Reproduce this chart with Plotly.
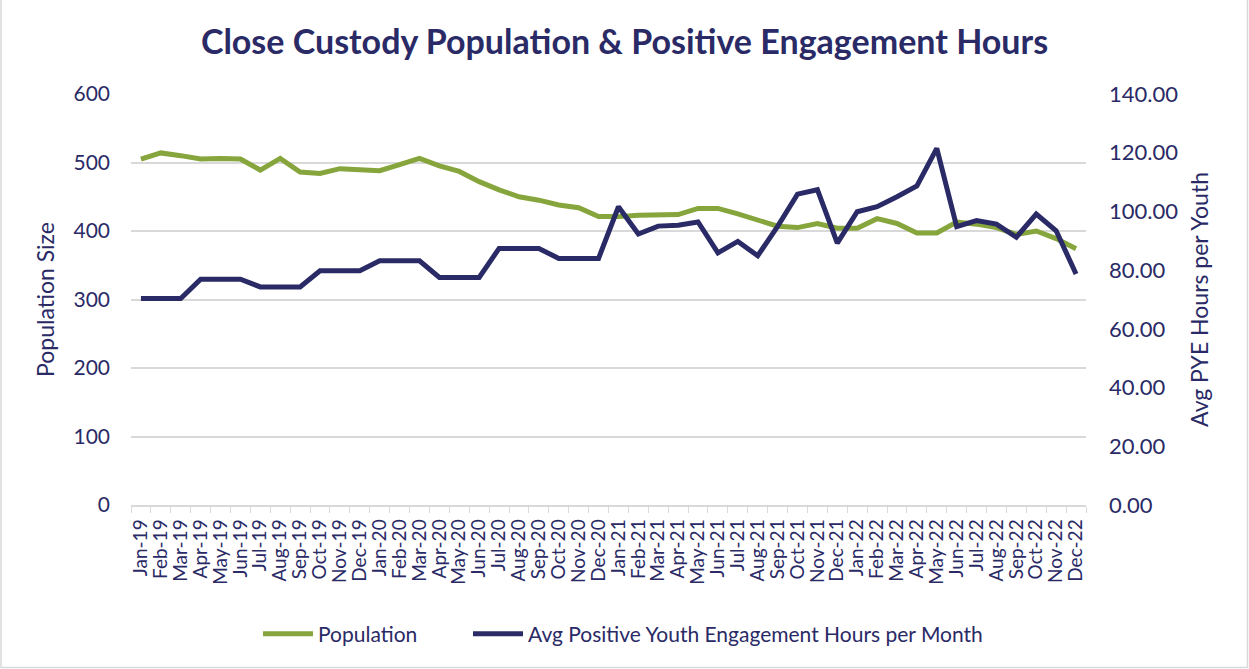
import plotly.graph_objects as go

# Monthly categories (Jan 2019 - Dec 2022)
months = [
    "Jan-19", "Feb-19", "Mar-19", "Apr-19", "May-19", "Jun-19",
    "Jul-19", "Aug-19", "Sep-19", "Oct-19", "Nov-19", "Dec-19",
    "Jan-20", "Feb-20", "Mar-20", "Apr-20", "May-20", "Jun-20",
    "Jul-20", "Aug-20", "Sep-20", "Oct-20", "Nov-20", "Dec-20",
    "Jan-21", "Feb-21", "Mar-21", "Apr-21", "May-21", "Jun-21",
    "Jul-21", "Aug-21", "Sep-21", "Oct-21", "Nov-21", "Dec-21",
    "Jan-22", "Feb-22", "Mar-22", "Apr-22", "May-22", "Jun-22",
    "Jul-22", "Aug-22", "Sep-22", "Oct-22", "Nov-22", "Dec-22",
]

# Close custody population size
population = [
    505, 514, 510, 505, 506, 505, 489, 506, 486, 484, 491, 490,
    488, 497, 506, 495, 487, 472, 460, 450, 445, 438, 434, 421,
    421, 423, 423, 424, 433, 433, 425, 416, 407, 405, 411, 404,
    404, 418, 411, 397, 397, 413, 410, 405, 395, 400, 389, 374,
]

# Average positive youth engagement hours per youth per month
pye_hours = [
    70.3, 70.3, 70.3, 76.9, 76.9, 76.9, 74.3, 74.3, 74.3, 79.8, 79.8, 79.8,
    83.2, 83.2, 83.2, 77.5, 77.5, 77.5, 87.4, 87.4, 87.4, 84.0, 84.0, 84.0,
    101.6, 92.3, 95.0, 95.3, 96.4, 85.9, 89.8, 84.9, 94.9, 105.9, 107.4, 89.2,
    99.9, 101.6, 105.0, 108.7, 121.5, 94.8, 96.9, 95.7, 91.2, 99.1, 93.4, 78.7,
]

GREEN = "#86A53C"
NAVY = "#2A2A66"
GRID = "#D9D9D9"
FONT = "Lato"

W, H = 1249, 669
L, R, T, B = 131, 163, 94, 164

fig = go.Figure()
fig.add_trace(go.Scatter(
    x=months, y=population, name="Population", mode="lines",
    line=dict(color=GREEN, width=5), yaxis="y", legend="legend",
))
fig.add_trace(go.Scatter(
    x=months, y=pye_hours, name="Avg Positive Youth Engagement Hours per Month",
    mode="lines", line=dict(color=NAVY, width=5), yaxis="y2", legend="legend2",
))

pw, ph = W - L - R, H - T - B

# one legend box per series so the entries sit where the footer places them
legend_style = dict(
    orientation="h", xanchor="left", xref="paper",
    y=(505 - 634) / ph, yanchor="middle",
    font=dict(size=21, color=NAVY), itemwidth=50,
)

fig.update_layout(
    width=W, height=H,
    margin=dict(l=L, r=R, t=T, b=B, pad=0, autoexpand=False),
    paper_bgcolor="white", plot_bgcolor="white",
    font=dict(family=FONT, color=NAVY, size=18),
    title=dict(
        text="<b>Close Custody Population & Positive Engagement Hours</b>",
        x=0.5, xanchor="center", xref="container",
        y=1 - 42 / H, yanchor="middle", yref="container",
        font=dict(family=FONT, size=34, color=NAVY),
    ),
    xaxis=dict(
        type="category", range=[-0.5, len(months) - 0.5],
        tickmode="linear", dtick=1,
        showgrid=False, showline=True, linecolor=GRID, linewidth=1.5,
        ticks="outside", tickson="boundaries", ticklen=6, tickcolor=GRID,
        tickangle=-90, tickfont=dict(size=19, color=NAVY), ticklabelstandoff=5,
        zeroline=False,
    ),
    yaxis=dict(
        range=[0, 600], dtick=100, showgrid=True, gridcolor=GRID, gridwidth=1.5,
        zeroline=False, showline=False, ticks="", ticklabelstandoff=20,
        tickfont=dict(size=21, color=NAVY),
        title=dict(text="Population Size", font=dict(size=23, color=NAVY), standoff=12),
    ),
    yaxis2=dict(
        range=[0, 140], dtick=20, tickformat=".2f", overlaying="y", side="right",
        showgrid=False, zeroline=False, showline=False, ticks="", ticklabelstandoff=22,
        tickfont=dict(size=22, color=NAVY),
        title=dict(text="Avg PYE Hours per Youth", font=dict(size=23, color=NAVY), standoff=14),
    ),
    legend=dict(legend_style, x=(258 - L) / pw),
    legend2=dict(legend_style, x=(468 - L) / pw),
    showlegend=True,
    shapes=[dict(
        type="rect", xref="paper", yref="paper",
        x0=(1 - L) / pw, x1=(W - 1.5 - L) / pw,
        y0=-(H - 1.5 - T - ph) / ph, y1=(H - T - 1.5) / ph,
        line=dict(color=GRID, width=1.5), fillcolor="rgba(0,0,0,0)", layer="below",
    )],
)

fig.write_html("out.html")
